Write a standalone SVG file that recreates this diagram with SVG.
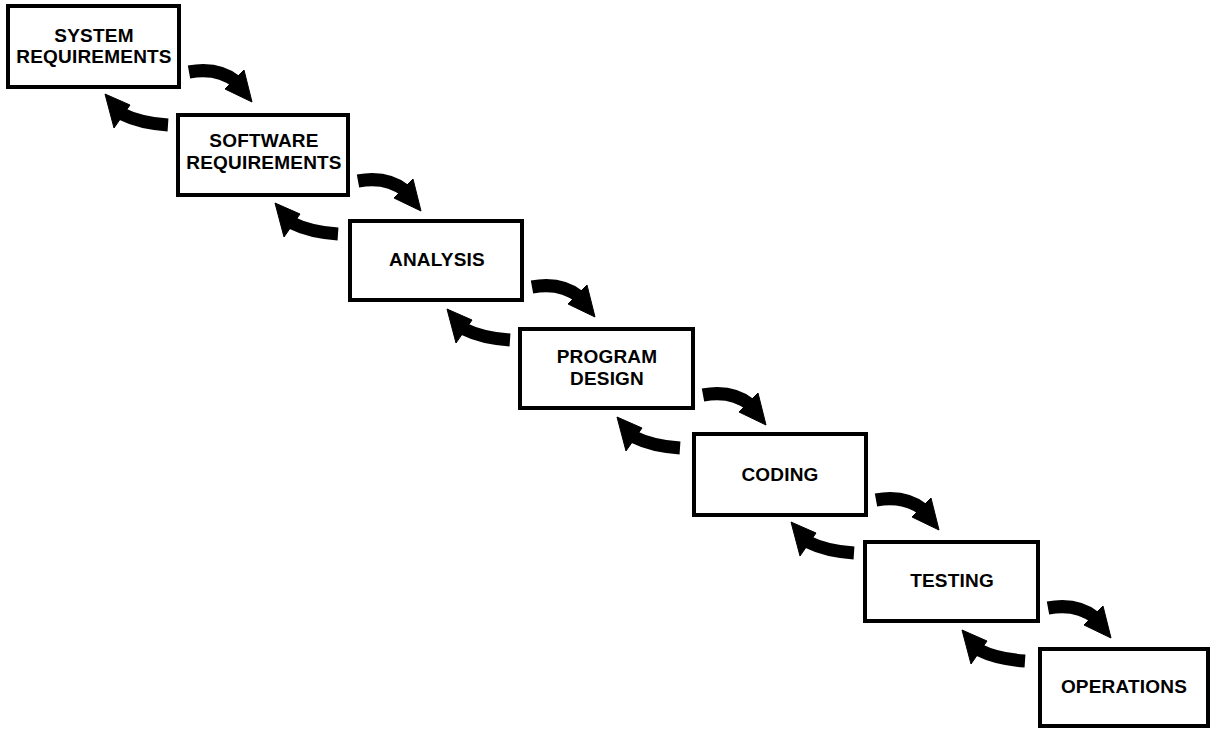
<svg xmlns="http://www.w3.org/2000/svg" xmlns:xlink="http://www.w3.org/1999/xlink" width="1220" height="738" viewBox="0 0 1220 738">
<style>
.box{fill:#fff;stroke:#000;stroke-width:4}
.lbl{font-family:"Liberation Sans",Arial,Helvetica,sans-serif;font-weight:bold;font-size:19px;letter-spacing:0.2px;fill:#000;text-anchor:middle}
.shaft{fill:none;stroke:#000;stroke-width:13}
.head{fill:#000;stroke:#000;stroke-width:1;stroke-linejoin:round}
</style>
<defs>
<g id="fwd">
<path class="shaft" d="M10,66 C26,63 44,65 58,76"/>
<polygon class="head" points="65,64 46,83 73,96"/>
</g>
<g id="back">
<path class="shaft" d="M160,119 C145,118 128,115 114,108"/>
<polygon class="head" points="122,99 106,122 97,88"/>
</g>
</defs>
<rect width="1220" height="738" fill="#fff"/>
<g id="connectors">
<use xlink:href="#fwd" transform="translate(179,6)"/>
<use xlink:href="#fwd" transform="translate(348,115)"/>
<use xlink:href="#fwd" transform="translate(522,221)"/>
<use xlink:href="#fwd" transform="translate(693,329)"/>
<use xlink:href="#fwd" transform="translate(866,434)"/>
<use xlink:href="#fwd" transform="translate(1038,542)"/>
<use xlink:href="#back" transform="translate(8,6)"/>
<use xlink:href="#back" transform="translate(178,115)"/>
<use xlink:href="#back" transform="translate(350,221)"/>
<use xlink:href="#back" transform="translate(520,329)"/>
<use xlink:href="#back" transform="translate(694,434)"/>
<use xlink:href="#back" transform="translate(865,542)"/>
</g>
<g id="system-requirements">
<rect class="box" x="8" y="6" width="171" height="81"/>
<text class="lbl" x="94" y="42">SYSTEM</text>
<text class="lbl" x="94" y="63">REQUIREMENTS</text>
</g>
<g id="software-requirements">
<rect class="box" x="178" y="115" width="170" height="80"/>
<text class="lbl" x="264" y="147">SOFTWARE</text>
<text class="lbl" x="264" y="169">REQUIREMENTS</text>
</g>
<g id="analysis">
<rect class="box" x="350" y="221" width="172" height="79"/>
<text class="lbl" x="437" y="266">ANALYSIS</text>
</g>
<g id="program-design">
<rect class="box" x="520" y="329" width="173" height="79"/>
<text class="lbl" x="607" y="363">PROGRAM</text>
<text class="lbl" x="607" y="385">DESIGN</text>
</g>
<g id="coding">
<rect class="box" x="694" y="434" width="172" height="81"/>
<text class="lbl" x="780" y="481">CODING</text>
</g>
<g id="testing">
<rect class="box" x="865" y="542" width="173" height="79"/>
<text class="lbl" x="952" y="587">TESTING</text>
</g>
<g id="operations">
<rect class="box" x="1040" y="649" width="168" height="77"/>
<text class="lbl" x="1124" y="693">OPERATIONS</text>
</g>
</svg>
